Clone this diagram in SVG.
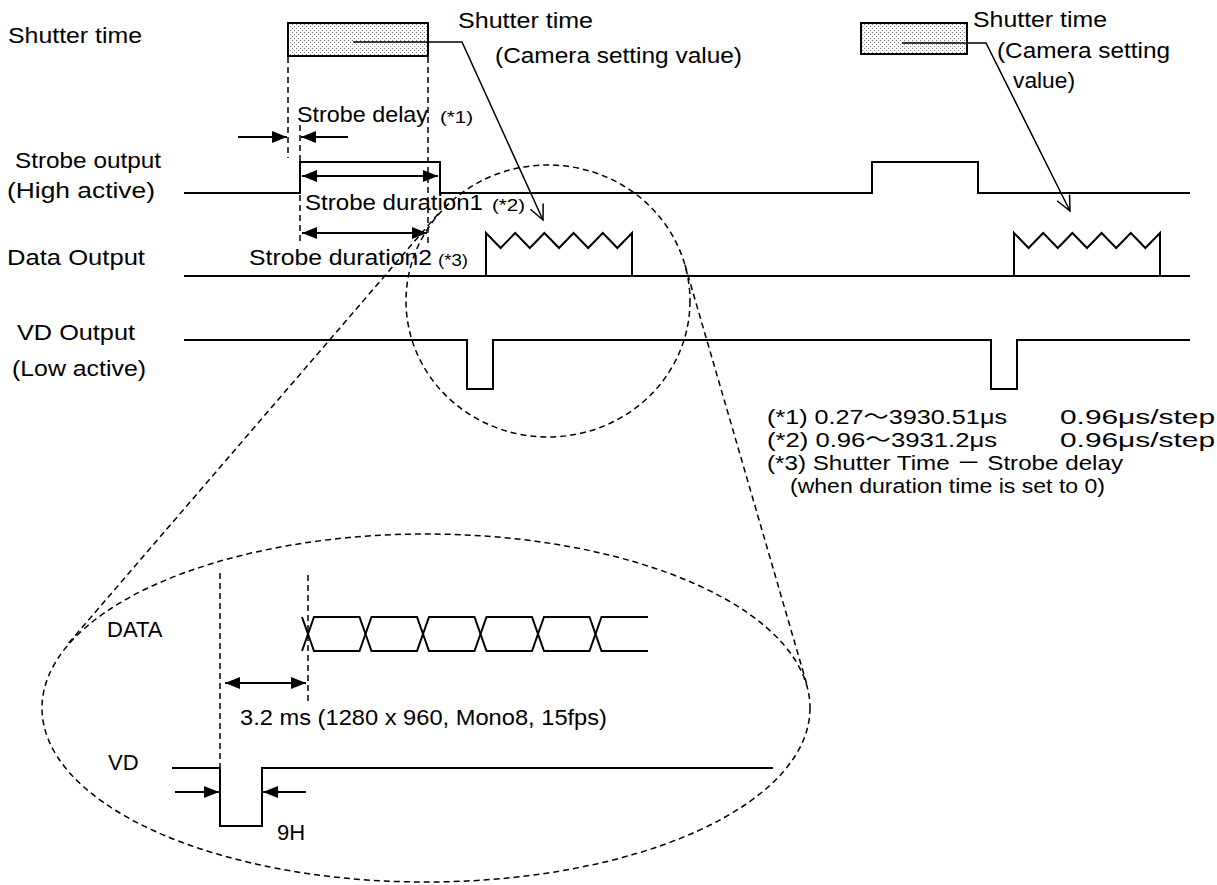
<svg xmlns="http://www.w3.org/2000/svg" width="1217" height="885" viewBox="0 0 1217 885">
<style>
.sig{fill:none;stroke:#000;stroke-width:2}
.dash{fill:none;stroke:#000;stroke-width:1.5;stroke-dasharray:6 4}
.lead{fill:none;stroke:#000;stroke-width:1.5}
.dim{fill:none;stroke:#000;stroke-width:2}
.t{font-family:"Liberation Sans","Noto Sans CJK JP",sans-serif;font-size:22px;fill:#000}
.s{font-size:17px}
.f{font-family:"Liberation Sans","Noto Sans CJK JP",sans-serif;font-size:20.5px;fill:#000}
.a{font-family:"Liberation Sans",Arial,sans-serif;font-size:22px;fill:#000}
</style>
<defs>
<pattern id="dots" width="4" height="4" patternUnits="userSpaceOnUse">
<rect width="4" height="4" fill="#fff"/>
<rect x="0" y="0" width="1" height="1" fill="#777"/>
<rect x="2" y="2" width="1" height="1" fill="#777"/>
</pattern>
<marker id="ah" viewBox="0 0 15 12" refX="15" refY="6" markerWidth="15" markerHeight="12" markerUnits="userSpaceOnUse" orient="auto-start-reverse">
<path d="M0,0 L15,6 L0,12 z" fill="#000"/>
</marker>
<marker id="open" viewBox="-17 -9 19 18" refX="0" refY="0" markerWidth="19" markerHeight="18" markerUnits="userSpaceOnUse" orient="auto">
<path d="M-15,-7 L0,0 L-15,7" fill="none" stroke="#000" stroke-width="1.5"/>
</marker>
</defs>
<rect width="1217" height="885" fill="#fff"/>

<g id="labels">
<text class="t" x="8" y="43" textLength="134" lengthAdjust="spacingAndGlyphs">Shutter time</text>
<text class="t" x="15" y="168" textLength="146" lengthAdjust="spacingAndGlyphs">Strobe output</text>
<text class="t" x="7" y="198" textLength="148" lengthAdjust="spacingAndGlyphs">(High active)</text>
<text class="t" x="7" y="265" textLength="138" lengthAdjust="spacingAndGlyphs">Data Output</text>
<text class="t" x="17" y="340" textLength="118" lengthAdjust="spacingAndGlyphs">VD Output</text>
<text class="t" x="12" y="376" textLength="134" lengthAdjust="spacingAndGlyphs">(Low active)</text>
</g>

<g id="shutter1">
<rect x="288" y="23" width="140" height="33" fill="url(#dots)" stroke="#000" stroke-width="2"/>
<text class="t" x="458" y="28" textLength="135" lengthAdjust="spacingAndGlyphs">Shutter time</text>
<text class="t" x="495" y="63" textLength="247" lengthAdjust="spacingAndGlyphs">(Camera setting value)</text>
</g>

<g id="shutter2">
<rect x="861" y="23" width="106" height="31" fill="url(#dots)" stroke="#000" stroke-width="2"/>
<text class="t" x="973" y="27" textLength="134" lengthAdjust="spacingAndGlyphs">Shutter time</text>
<text class="t" x="997" y="58" textLength="173" lengthAdjust="spacingAndGlyphs">(Camera setting</text>
<text class="t" x="1013" y="88" textLength="62" lengthAdjust="spacingAndGlyphs">value)</text>
</g>

<g id="strobe">
<path class="sig" d="M184,193 H300 V162 H440 V193 H872 V162 H978 V193 H1190"/>
</g>

<g id="data">
<path class="sig" d="M184,276 H1190"/>
<path class="sig" d="M486,276 V233 L500.6,248 L515.2,233 L529.8,248 L544.4,233 L559,248 L573.6,233 L588.2,248 L602.8,233 L617.4,248 L632,233 V276"/>
<path class="sig" d="M1014,276 V233 L1028.6,248 L1043.2,233 L1057.8,248 L1072.4,233 L1087,248 L1101.6,233 L1116.2,248 L1130.8,233 L1145.4,248 L1160,233 V276"/>
</g>

<g id="vd">
<path class="sig" d="M184,340 H467 V389 H493 V340 H991 V389 H1017 V340 H1190"/>
</g>

<g id="strobe-delay">
<line class="dim" x1="238" y1="137" x2="287" y2="137" marker-end="url(#ah)"/>
<line class="dim" x1="348" y1="137" x2="301" y2="137" marker-end="url(#ah)"/>
<text class="t" x="297" y="122" textLength="131" lengthAdjust="spacingAndGlyphs">Strobe delay</text>
<text class="t s" x="440" y="123" textLength="33" lengthAdjust="spacingAndGlyphs">(*1)</text>
</g>

<g id="strobe-duration1">
<line class="dim" x1="302" y1="176" x2="438" y2="176" marker-start="url(#ah)" marker-end="url(#ah)"/>
<text class="t" x="305" y="210" textLength="178" lengthAdjust="spacingAndGlyphs">Strobe duration1</text>
<text class="t s" x="492" y="211" textLength="33" lengthAdjust="spacingAndGlyphs">(*2)</text>
</g>

<g id="strobe-duration2">
<line class="dim" x1="302" y1="233" x2="427" y2="233" marker-start="url(#ah)" marker-end="url(#ah)"/>
<text class="t" x="249" y="265" textLength="183" lengthAdjust="spacingAndGlyphs">Strobe duration2</text>
<text class="t s" x="438" y="266" textLength="30" lengthAdjust="spacingAndGlyphs">(*3)</text>
</g>

<g id="notes">
<text class="f" x="767" y="424" textLength="240" lengthAdjust="spacingAndGlyphs">(*1) 0.27～3930.51μs</text>
<text class="f" x="1060" y="424" textLength="155" lengthAdjust="spacingAndGlyphs">0.96μs/step</text>
<text class="f" x="767" y="447" textLength="230" lengthAdjust="spacingAndGlyphs">(*2) 0.96～3931.2μs</text>
<text class="f" x="1060" y="447" textLength="155" lengthAdjust="spacingAndGlyphs">0.96μs/step</text>
<text class="f" x="767" y="470" textLength="356" lengthAdjust="spacingAndGlyphs">(*3) Shutter Time － Strobe delay</text>
<text class="f" x="790" y="493" textLength="315" lengthAdjust="spacingAndGlyphs">(when duration time is set to 0)</text>
</g>

<g id="zoom-detail">
<text class="a" x="107" y="637">DATA</text>
<path class="sig" d="M302,617 L314,651 L359.5,651 L371.5,617 L417,617 L429,651 L474.5,651 L486.5,617 L532,617 L544,651 L589.5,651 L601.5,617 L648,617"/>
<path class="sig" d="M302,651 L314,617 L359.5,617 L371.5,651 L417,651 L429,617 L474.5,617 L486.5,651 L532,651 L544,617 L589.5,617 L601.5,651 L648,651"/>
<line class="dim" x1="225" y1="683" x2="306" y2="683" marker-start="url(#ah)" marker-end="url(#ah)"/>
<text class="a" x="240" y="725" textLength="367" lengthAdjust="spacingAndGlyphs">3.2 ms (1280 x 960, Mono8, 15fps)</text>
<text class="a" x="108" y="770">VD</text>
<path class="sig" d="M172,768 H220 V826 H262 V768 H773"/>
<line class="dim" x1="175" y1="792" x2="219" y2="792" marker-end="url(#ah)"/>
<line class="dim" x1="306" y1="792" x2="263" y2="792" marker-end="url(#ah)"/>
<text class="a" x="277" y="840">9H</text>
</g>

<g id="connectors">
<line class="dash" x1="288" y1="57" x2="288" y2="158"/>
<line class="dash" x1="300" y1="125" x2="300" y2="245"/>
<line class="dash" x1="428" y1="57" x2="428" y2="245"/>
<polyline class="lead" points="353,42 462,42 543,220" marker-end="url(#open)"/>
<polyline class="lead" points="902,43 986,43 1070,211" marker-end="url(#open)"/>
<ellipse class="dash" cx="548" cy="301" rx="142" ry="136"/>
<ellipse class="dash" cx="426" cy="708" rx="384" ry="174"/>
<line class="dash" x1="438" y1="214" x2="67" y2="645"/>
<line class="dash" x1="685" y1="265" x2="807" y2="685"/>
<line class="dash" x1="220" y1="573" x2="220" y2="768"/>
<line class="dash" x1="308" y1="575" x2="308" y2="705"/>
</g>
</svg>
